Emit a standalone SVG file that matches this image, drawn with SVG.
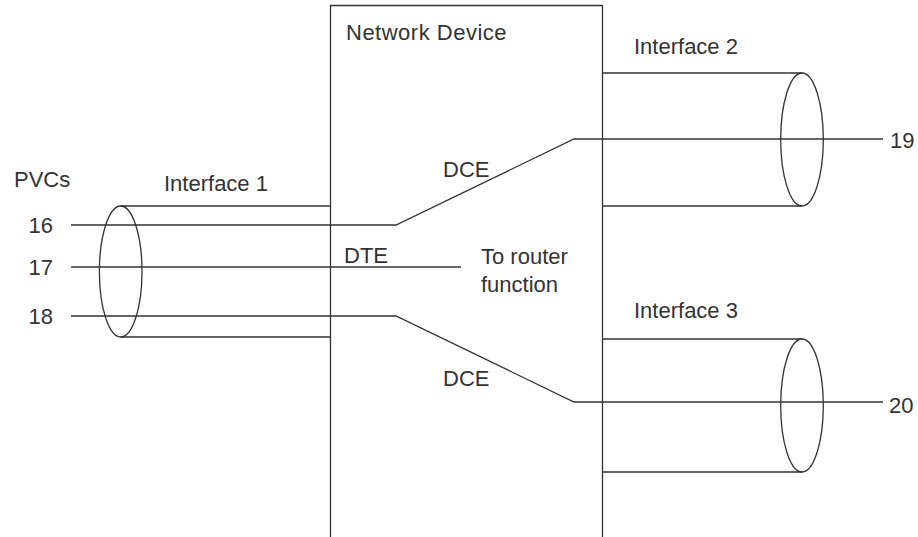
<svg xmlns="http://www.w3.org/2000/svg" width="918" height="537" viewBox="0 0 918 537">
<style>
.ln{fill:none;stroke:#333;stroke-width:1.3}
.tx{font-family:"Liberation Sans",Arial,sans-serif;font-size:22px;fill:#333}
.end{text-anchor:end}
</style>
<rect width="918" height="537" fill="#fff"/>
<g id="network-device">
<path class="ln" d="M330.5 537 V5.5 H602.5 V537"/>
<text class="tx" x="346" y="40" letter-spacing="0.5">Network Device</text>
<text class="tx" x="344" y="263">DTE</text>
<text class="tx" x="443" y="177">DCE</text>
<text class="tx" x="443" y="386">DCE</text>
<text class="tx" x="481" y="264">To router</text>
<text class="tx" x="481" y="292">function</text>
</g>
<g id="interface-1">
<ellipse class="ln" cx="120.7" cy="271.5" rx="21.3" ry="65.5"/>
<text class="tx" x="164" y="191">Interface 1</text>
<text class="tx" x="14" y="187">PVCs</text>
<text class="tx end" x="53" y="233">16</text>
<text class="tx end" x="53" y="275">17</text>
<text class="tx end" x="53" y="324">18</text>
</g>
<g id="interface-2">
<ellipse class="ln" cx="802" cy="139.5" rx="21.3" ry="66.5"/>
<text class="tx" x="634" y="54">Interface 2</text>
<text class="tx" x="890" y="148">19</text>
</g>
<g id="interface-3">
<ellipse class="ln" cx="802" cy="405.5" rx="21.3" ry="66.5"/>
<text class="tx" x="634" y="318">Interface 3</text>
<text class="tx" x="889" y="413">20</text>
</g>
<g id="connectors">
<path class="ln" d="M120.7 206 H330.5 M120.7 337 H330.5"/>
<path class="ln" d="M602.5 73 H802 M602.5 206 H802"/>
<path class="ln" d="M602.5 339 H802 M602.5 472 H802"/>
<path class="ln" d="M71 225 H396 L574 139 H883"/>
<path class="ln" d="M71 267 H461"/>
<path class="ln" d="M71 316 H396 L574 402 H883"/>
</g>
</svg>
